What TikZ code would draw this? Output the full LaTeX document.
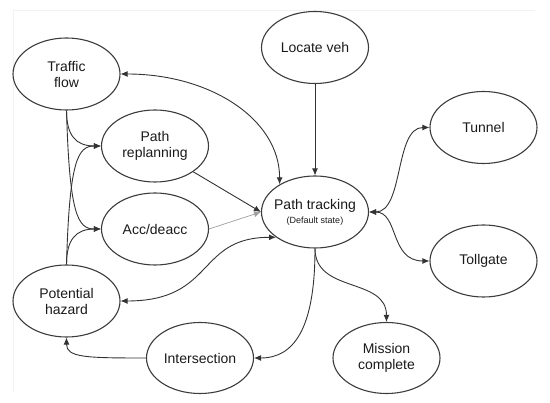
\documentclass[tikz,border=0pt]{standalone}
\usepackage{fontspec}
\setmainfont{Liberation Sans}
\usetikzlibrary{shapes.geometric,arrows.meta}
\definecolor{edgec}{HTML}{333333}
\definecolor{boxc}{HTML}{3C3C3C}
\definecolor{textc}{HTML}{1A1A1A}
\definecolor{framec}{HTML}{F2F2F2}
\begin{document}
\begin{tikzpicture}[x=1pt,y=-1pt,
  state/.style={ellipse, draw=boxc, line width=1.1pt, minimum width=107pt, minimum height=72pt,
    inner xsep=-8pt, inner ysep=-6pt, align=center, text=textc, font=\fontsize{14}{16}\selectfont},
  conn/.style={draw=edgec, line width=0.9pt, -{Latex[length=7pt,width=6pt]}},
  both/.style={conn, {Latex[length=7pt,width=6pt]}-{Latex[length=7pt,width=6pt]}},
]
\useasboundingbox (0,0) rectangle (550,403);
\draw[framec, line width=0.8pt] (13,392) -- (13,10) -- (535,10);

\node[state] (tf) at (66.5,74) {Traffic\\flow};
\node[state] (pr) at (155,146) {Path\\replanning};
\node[state] (ad) at (155,229) {Acc/deacc};
\node[state] (hz) at (66.5,301) {Potential\\hazard};
\node[state, minimum height=71pt] (isec) at (200,358) {Intersection};
\node[state] (lv) at (315,47.5) {Locate veh};
\node[state] (pt) at (315,212) {Path tracking\\[-2pt]{\fontsize{9}{11}\selectfont(Default state)}};
\node[state] (tu) at (483.5,127.5) {Tunnel};
\node[state] (tg) at (483.5,261) {Tollgate};
\node[state, minimum height=71pt] (mc) at (386.5,358) {Mission\\complete};

\draw[both] (tf.east) .. controls +(90,0) and +(0,-65) .. (pt.142);
\draw[conn] (lv) -- (pt);
\draw[conn] (pr.-34) -- (pt.west);
\draw[conn, draw=gray!75, line width=0.7pt] (ad.east) -- (pt.west);
\draw[both] (hz.east) .. controls +(95,0) and +(-80,0) .. (pt.213);
\draw[both] (pt.east) .. controls +(35,0) and +(-35,0) .. (tu.west);
\draw[both] (pt.east) .. controls +(30,0) and +(-40,0) .. (tg.west);
\draw[conn] (pt.south) .. controls +(0,45) and +(0,-45) .. (mc.north);
\draw[conn] (pt.south) .. controls +(0,80) and +(40,0) .. (isec.east);
\draw[conn] (isec.west) .. controls +(-60,0) and +(0,20) .. (hz.south);
\draw[conn] (tf.south) .. controls +(0,25) and +(-25,0) .. (pr.west);
\draw[conn] (tf.south) .. controls +(3,105) and +(-23,0) .. (ad.west);
\draw[conn] (hz.north) .. controls +(3,-105) and +(-23,0) .. (pr.west);
\draw[conn] (hz.north) .. controls +(0,-25) and +(-25,0) .. (ad.west);
\end{tikzpicture}
\end{document}
